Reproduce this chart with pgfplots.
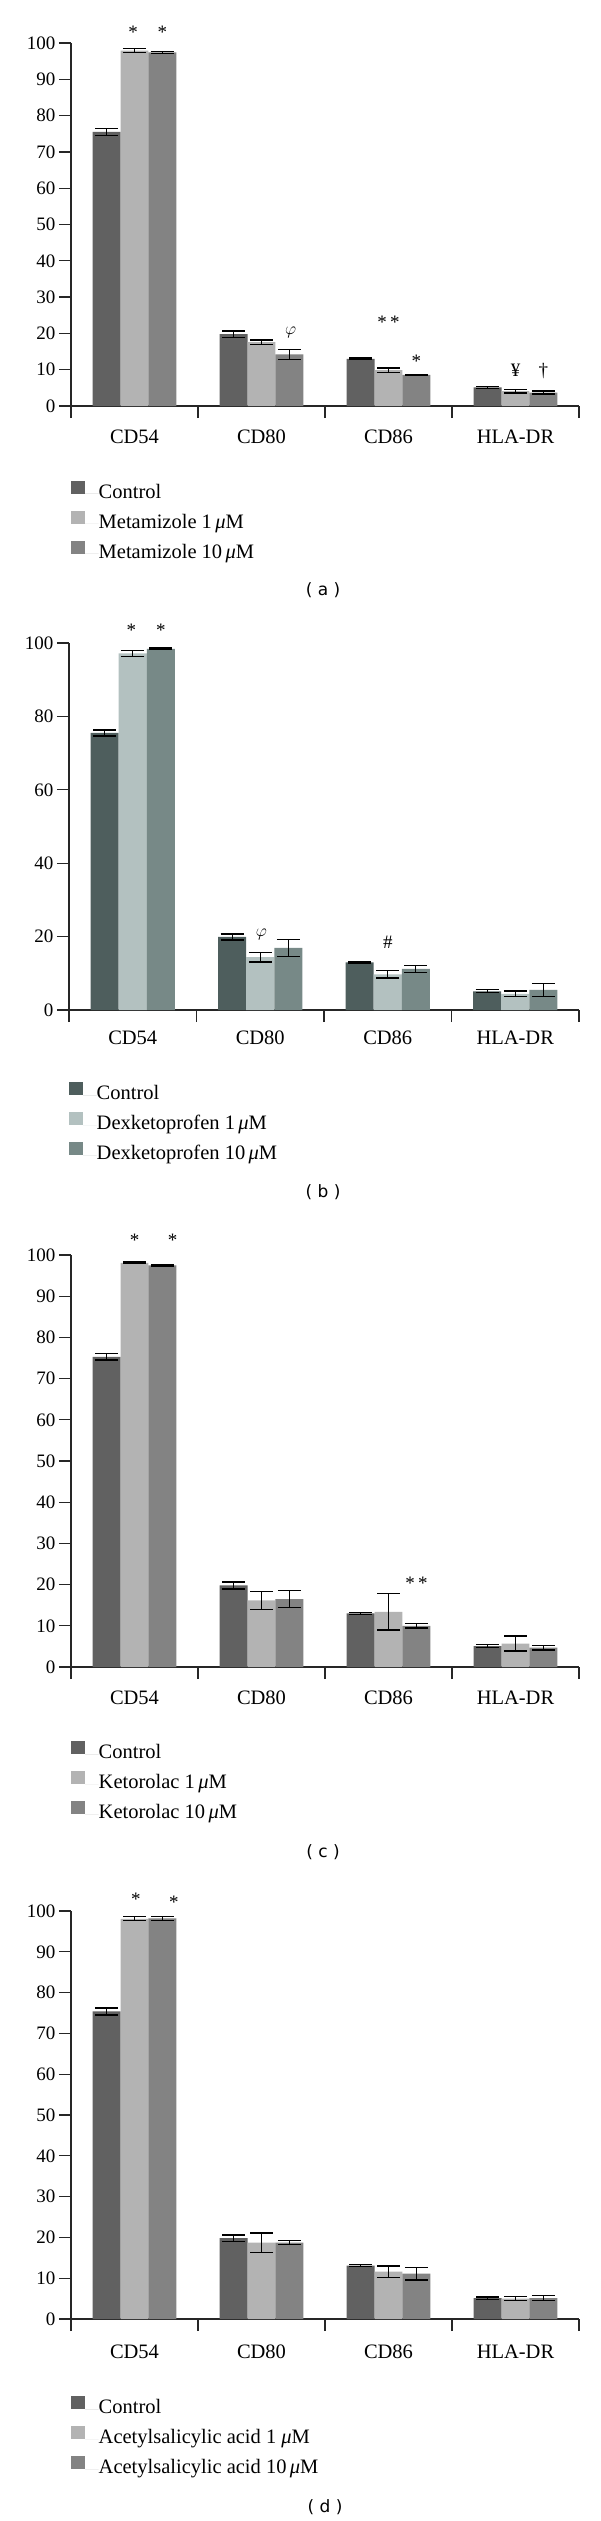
\documentclass[border=0pt]{standalone}
\usepackage{pgfplots}
\pgfplotsset{compat=1.18}
\usepackage{fontspec}
\setmainfont{Liberation Serif}
\newfontfamily\capfont{DejaVu Sans}

\definecolor{gA}{HTML}{616161}
\definecolor{gB}{HTML}{B3B3B3}
\definecolor{gC}{HTML}{838383}
\definecolor{sA}{HTML}{4E5E5D}
\definecolor{sB}{HTML}{B3C1C0}
\definecolor{sC}{HTML}{778987}

\newcommand{\tf}{\fontsize{19}{22}\selectfont}
\newcommand{\lf}{\fontsize{20.5}{24}\selectfont}
\tikzset{ann/.style={font=\tf}}

\pgfplotsset{
  panel/.style 2 args={
    scale only axis, width=508pt,
    xmin=0, xmax=4, ymin=0, ymax=100,
    axis lines=left, axis line style={-, line width=1.3pt, black!85},
    tick align=outside, major tick length=12pt,
    tick style={line width=1.3pt, black!85},
    xtick={0,1,2,3,4}, xticklabels={},
    extra x ticks={0.5,1.5,2.5,3.5},
    extra x tick labels={CD54,CD80,CD86,HLA-DR},
    extra x tick style={major tick length=0pt, xticklabel style={anchor=base, yshift=-#1, font=\lf}},
    ticklabel style={font=\tf},
    /pgf/number format/assume math mode=true,
    ybar=0pt, bar width=0.22,
    clip=false,
    legend cell align=left,
    legend style={at={(0,0)}, anchor=north west, yshift=-#2, draw=none, fill=none,
      inner sep=0pt, font=\lf, row sep=8pt, column sep=0pt,
      nodes={inner sep=0pt, text height=13.5pt, text depth=4.5pt}},
    legend image code/.code={\fill[##1] (0.5pt,0pt) rectangle (14.5pt,13pt); \path (14.5pt,0pt) -- (28pt,0pt);},
    every axis plot/.append style={draw=none,
      /pgfplots/error bars/y dir=both, /pgfplots/error bars/y explicit,
      /pgfplots/error bars/error bar style={line width=1.3pt, black},
      /pgfplots/error bars/error mark options={rotate=90, line width=1.3pt, mark size=11.5pt, black}},
  },
}

\begin{document}
\begin{tikzpicture}
\path[use as bounding box] (0pt,0pt) rectangle (600pt,-2521pt);

% ---------------- (a)
\begin{axis}[panel={37pt}{74.5pt}, at={(71pt,-406pt)}, anchor=south west, height=363pt,
  ytick={0,10,...,100}]
\addplot[fill=gA] coordinates {(0.5,75.5) +- (0,0.9) (1.5,19.8) +- (0,0.9) (2.5,13.0) +- (0,0.2) (3.5,5.1) +- (0,0.2)};
\addlegendentry{Control}
\addplot[fill=gB] coordinates {(0.5,97.9) +- (0,0.6) (1.5,17.6) +- (0,0.6) (2.5,9.9) +- (0,0.6) (3.5,4.1) +- (0,0.5)};
\addlegendentry{Metamizole 1\,\textit{μ}M}
\addplot[fill=gC] coordinates {(0.5,97.4) +- (0,0.2) (1.5,14.2) +- (0,1.3) (2.5,8.6) +- (0,0.15) (3.5,3.7) +- (0,0.4)};
\addlegendentry{Metamizole 10\,\textit{μ}M}
\node[ann] at (axis cs:0.49,103) {*};
\node[ann] at (axis cs:0.72,103) {*};
\node[ann] at (axis cs:1.73,20.3) {$\varphi$};
\node[ann] at (axis cs:2.50,23.2) {*\,*};
\node[ann] at (axis cs:2.72,12.4) {*};
\node[ann] at (axis cs:3.50,9.9) {¥};
\node[ann] at (axis cs:3.72,9.5) {†};
\end{axis}
\node[anchor=base, font=\capfont\fontsize{17}{20}\selectfont] at (323pt,-595pt) {( a )};

% ---------------- (b)
\begin{axis}[panel={34pt}{72pt}, at={(69pt,-1010pt)}, anchor=south west, height=367pt, width=510pt,
  ytick={0,20,...,100}]
\addplot[fill=sA] coordinates {(0.5,75.5) +- (0,0.8) (1.5,19.9) +- (0,0.85) (2.5,13.0) +- (0,0.2) (3.5,5.1) +- (0,0.4)};
\addlegendentry{Control}
\addplot[fill=sB] coordinates {(0.5,97.2) +- (0,0.8) (1.5,14.4) +- (0,1.3) (2.5,9.7) +- (0,1.0) (3.5,4.4) +- (0,0.8)};
\addlegendentry{Dexketoprofen 1\,\textit{μ}M}
\addplot[fill=sC] coordinates {(0.5,98.4) +- (0,0.2) (1.5,16.9) +- (0,2.4) (2.5,11.2) +- (0,1.0) (3.5,5.5) +- (0,1.8)};
\addlegendentry{Dexketoprofen 10\,\textit{μ}M}
\node[ann] at (axis cs:0.49,103.5) {*};
\node[ann] at (axis cs:0.72,103.5) {*};
\node[ann] at (axis cs:1.51,20.5) {$\varphi$};
\node[ann] at (axis cs:2.50,18.4) {\#};
\end{axis}
\node[anchor=base, font=\capfont\fontsize{17}{20}\selectfont] at (323pt,-1197pt) {( b )};

% ---------------- (c)
\begin{axis}[panel={37pt}{74pt}, at={(71pt,-1667pt)}, anchor=south west, height=412pt,
  ytick={0,10,...,100}]
\addplot[fill=gA] coordinates {(0.5,75.3) +- (0,0.8) (1.5,19.8) +- (0,0.85) (2.5,13.0) +- (0,0.25) (3.5,5.1) +- (0,0.3)};
\addlegendentry{Control}
\addplot[fill=gB] coordinates {(0.5,98.1) +- (0,0.2) (1.5,16.2) +- (0,2.2) (2.5,13.4) +- (0,4.4) (3.5,5.7) +- (0,1.8)};
\addlegendentry{Ketorolac 1\,\textit{μ}M}
\addplot[fill=gC] coordinates {(0.5,97.5) +- (0,0.2) (1.5,16.5) +- (0,2.1) (2.5,10.0) +- (0,0.5) (3.5,4.7) +- (0,0.55)};
\addlegendentry{Ketorolac 10\,\textit{μ}M}
\node[ann] at (axis cs:0.50,103.6) {*};
\node[ann] at (axis cs:0.80,103.6) {*};
\node[ann] at (axis cs:2.72,20.4) {*\,*};
\end{axis}
\node[anchor=base, font=\capfont\fontsize{17}{20}\selectfont] at (323pt,-1857pt) {( c )};

% ---------------- (d)
\begin{axis}[panel={39pt}{77pt}, at={(71pt,-2319pt)}, anchor=south west, height=408pt,
  ytick={0,10,...,100}]
\addplot[fill=gA] coordinates {(0.5,75.4) +- (0,0.85) (1.5,19.8) +- (0,0.8) (2.5,13.1) +- (0,0.2) (3.5,5.1) +- (0,0.3)};
\addlegendentry{Control}
\addplot[fill=gB] coordinates {(0.5,98.1) +- (0,0.5) (1.5,18.7) +- (0,2.4) (2.5,11.6) +- (0,1.4) (3.5,5.0) +- (0,0.5)};
\addlegendentry{Acetylsalicylic acid 1 \textit{μ}M}
\addplot[fill=gC] coordinates {(0.5,98.2) +- (0,0.5) (1.5,18.7) +- (0,0.5) (2.5,11.1) +- (0,1.5) (3.5,5.1) +- (0,0.6)};
\addlegendentry{Acetylsalicylic acid 10\,\textit{μ}M}
\node[ann] at (axis cs:0.51,103.0) {*};
\node[ann] at (axis cs:0.81,102.2) {*};
\end{axis}
\node[anchor=base, font=\capfont\fontsize{17}{20}\selectfont] at (325pt,-2512pt) {( d )};
\end{tikzpicture}
\end{document}
